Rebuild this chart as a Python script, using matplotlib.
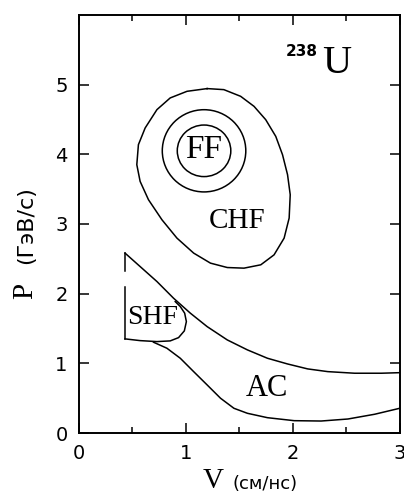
import numpy as np
import matplotlib
matplotlib.use('Agg')
import matplotlib.pyplot as plt
from matplotlib.patches import Ellipse

# boundary of the CHF region (V, P), traced clockwise from the top
chf_v = [1.199, 1.355, 1.512, 1.637, 1.746, 1.840, 1.903, 1.950, 1.975, 1.965,
         1.918, 1.824, 1.700, 1.543, 1.387, 1.230, 1.073, 0.917, 0.777, 0.651,
         0.573, 0.542, 0.557, 0.620, 0.730, 0.854, 1.011]
chf_p = [4.943, 4.928, 4.832, 4.688, 4.497, 4.257, 3.994, 3.707, 3.420, 3.085,
         2.797, 2.557, 2.414, 2.366, 2.375, 2.438, 2.582, 2.797, 3.060, 3.348,
         3.611, 3.851, 4.138, 4.378, 4.641, 4.809, 4.904]

# FF circles: centre, half widths
ff_center = (1.17, 4.05)
ff_inner = (0.25, 0.37)
ff_outer = (0.39, 0.59)

# upper boundary of AC region
up_v = [0.432, 0.573, 0.730, 0.885, 1.042, 1.199, 1.387, 1.575, 1.762, 1.950,
        2.138, 2.326, 2.576, 2.826, 2.998]
up_p = [2.582, 2.389, 2.174, 1.935, 1.720, 1.527, 1.336, 1.193, 1.073, 0.991,
        0.920, 0.881, 0.858, 0.858, 0.866]

# SHF bulge
shf_v = [0.432, 0.573, 0.730, 0.854, 0.932, 0.986, 1.005, 0.989, 0.948, 0.901]
shf_p = [1.351, 1.326, 1.312, 1.322, 1.369, 1.466, 1.599, 1.720, 1.815, 1.886]

# lower boundary of AC region
low_v = [0.698, 0.823, 0.948, 1.073, 1.199, 1.324, 1.449, 1.575, 1.762, 2.012,
         2.263, 2.514, 2.763, 2.998]
low_p = [1.303, 1.217, 1.073, 0.881, 0.690, 0.499, 0.355, 0.283, 0.220, 0.177,
         0.172, 0.201, 0.269, 0.355]

# dashed left edge (two pieces)
edge_v = 0.432
edge_top = (2.582, 2.33)
edge_bot = (2.10, 1.351)

serif = 'Liberation Serif'
lw = 1.1

fig = plt.figure(figsize=(4.04, 4.98), dpi=100)
ax = fig.add_axes([0.195, 0.1305, 0.795, 0.8395])

ax.plot(chf_v + chf_v[:1], chf_p + chf_p[:1], color='black', lw=lw,
        solid_joinstyle='round')
for w, h in [ff_inner, ff_outer]:
    ax.add_patch(Ellipse(ff_center, 2 * w, 2 * h, fill=False, color='black', lw=lw))
ax.plot(up_v, up_p, color='black', lw=lw, solid_joinstyle='round')
ax.plot(shf_v, shf_p, color='black', lw=lw, solid_joinstyle='round')
ax.plot(low_v, low_p, color='black', lw=lw, solid_joinstyle='round')
ax.plot([edge_v, edge_v], edge_top, color='black', lw=lw)
ax.plot([edge_v, edge_v], edge_bot, color='black', lw=lw)

ax.text(1.17, 4.06, 'FF', family=serif, fontsize=24, ha='center', va='center')
ax.text(1.48, 3.04, 'CHF', family=serif, fontsize=21, ha='center', va='center')
ax.text(0.69, 1.66, 'SHF', family=serif, fontsize=20, ha='center', va='center')
ax.text(1.76, 0.64, 'AC', family=serif, fontsize=22, ha='center', va='center')
ax.text(2.08, 5.48, '238', fontsize=11, fontweight='bold', ha='center', va='center')
ax.text(2.41, 5.30, 'U', family=serif, fontsize=29, ha='center', va='center')

ax.set_xlim(0, 3)
ax.set_ylim(0, 6)
ax.set_xticks([0, 1, 2, 3])
ax.set_xticks([0.5, 1.5, 2.5], minor=True)
ax.set_yticks([0, 1, 2, 3, 4, 5])
ax.tick_params(direction='in', top=True, right=True, length=7, width=1.1,
               labelsize=14, pad=8)
ax.tick_params(which='minor', direction='in', top=True, length=4, width=1.1)
for s in ax.spines.values():
    s.set_linewidth(1.4)

fig.text(0.527, 0.034, 'V', family=serif, fontsize=21, ha='center', va='center')
fig.text(0.655, 0.028, '(см/нс)', fontsize=13, ha='center', va='center')
fig.text(0.062, 0.416, 'P', family=serif, fontsize=21, ha='center', va='center', rotation=90)
fig.text(0.064, 0.548, '(ГэВ/с)', fontsize=16, ha='center', va='center', rotation=90)

fig.savefig('out.png', dpi=100)
